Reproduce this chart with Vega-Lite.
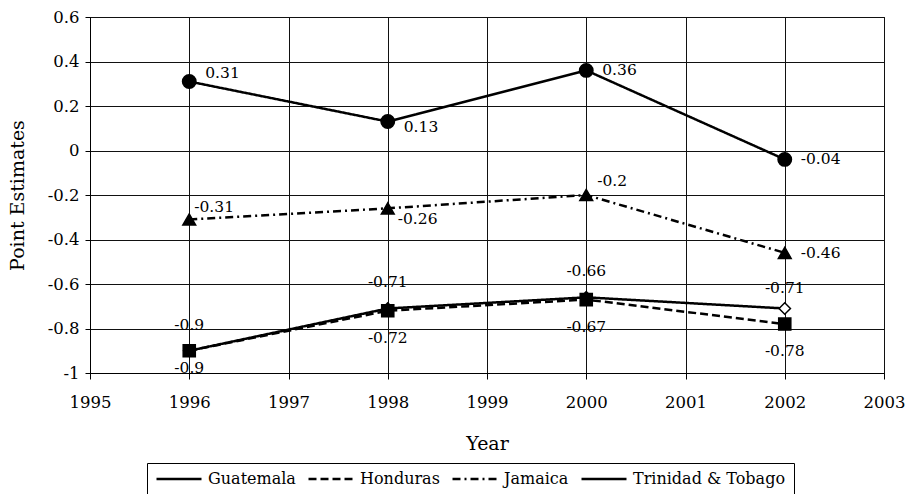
{
  "$schema": "https://vega.github.io/schema/vega-lite/v6.json",
  "autosize": {"type": "none"},
  "width": 794,
  "height": 356,
  "padding": {"left": 90, "top": 17, "right": 22, "bottom": 121},
  "background": "white",
  "config": {
    "locale": {"number": {"decimal": ".", "thousands": ",", "grouping": [3], "currency": ["$", ""], "minus": "-"}},
    "view": {"stroke": "black", "strokeWidth": 1},
    "font": "DejaVu Serif",
    "axis": {
      "domainColor": "black", "tickColor": "black", "gridColor": "#111", "gridWidth": 1,
      "labelFont": "DejaVu Serif", "labelFontSize": 16.5, "labelColor": "black",
      "titleFont": "DejaVu Serif", "titleFontSize": 19, "titleFontWeight": "normal", "titleColor": "black",
      "tickSize": 6
    },
    "legend": {"labelFont": "DejaVu Serif", "labelFontSize": 16, "labelColor": "black"}
  },
  "data": {"values": [
    {"country": "Guatemala", "year": 1996, "value": -0.9},
    {"country": "Guatemala", "year": 1998, "value": -0.71},
    {"country": "Guatemala", "year": 2000, "value": -0.66},
    {"country": "Guatemala", "year": 2002, "value": -0.71},
    {"country": "Honduras", "year": 1996, "value": -0.9},
    {"country": "Honduras", "year": 1998, "value": -0.72},
    {"country": "Honduras", "year": 2000, "value": -0.67},
    {"country": "Honduras", "year": 2002, "value": -0.78},
    {"country": "Jamaica", "year": 1996, "value": -0.31},
    {"country": "Jamaica", "year": 1998, "value": -0.26},
    {"country": "Jamaica", "year": 2000, "value": -0.2},
    {"country": "Jamaica", "year": 2002, "value": -0.46},
    {"country": "Trinidad & Tobago", "year": 1996, "value": 0.31},
    {"country": "Trinidad & Tobago", "year": 1998, "value": 0.13},
    {"country": "Trinidad & Tobago", "year": 2000, "value": 0.36},
    {"country": "Trinidad & Tobago", "year": 2002, "value": -0.04}
  ]},
  "encoding": {
    "x": {"field": "year", "type": "quantitative", "title": "Year",
      "scale": {"domain": [1995, 2003], "nice": false, "zero": false},
      "axis": {"values": [1995, 1996, 1997, 1998, 1999, 2000, 2001, 2002, 2003], "format": "d", "labelPadding": 15, "titlePadding": 24, "labelFlush": false}},
    "y": {"field": "value", "type": "quantitative", "title": "Point Estimates",
      "scale": {"domain": [-1, 0.6], "nice": false, "zero": false},
      "axis": {"values": [-1, -0.8, -0.6, -0.4, -0.2, 0, 0.2, 0.4, 0.6], "format": "~g", "labelPadding": 6, "titlePadding": 20, "tickSize": 5, "labelFlush": false}}
  },
  "layer": [
    {
      "mark": {"type": "line", "color": "black", "strokeWidth": 2.5},
      "encoding": {
        "strokeDash": {"field": "country", "type": "nominal",
          "scale": {"range": [[1, 0], [8, 4], [8, 4, 2, 4], [1, 0]]},
          "legend": {
            "orient": "none", "legendX": 57, "legendY": 446, "title": null,
            "direction": "horizontal", "columns": 4,
            "strokeColor": "black", "padding": 8, "clipHeight": 16,
            "symbolType": "stroke", "symbolSize": 2025, "symbolStrokeWidth": 2.5, "symbolStrokeColor": "black",
            "symbolOffset": 0, "labelOffset": 5, "columnPadding": 11, "labelLimit": 300
          }
        }
      }
    },
    {
      "mark": {"type": "point", "filled": true, "stroke": "black", "strokeWidth": 1.5, "opacity": 1},
      "encoding": {
        "shape": {"field": "country", "type": "nominal",
          "scale": {"domain": ["Guatemala", "Honduras", "Jamaica", "Trinidad & Tobago"],
            "range": ["diamond", "square", "triangle-up", "circle"]},
          "legend": {
            "orient": "none", "legendX": 57, "legendY": 446, "title": null,
            "direction": "horizontal", "columns": 4,
            "padding": 8, "clipHeight": 16,
            "symbolSize": 150, "symbolStrokeWidth": 1.5, "symbolStrokeColor": "black",
            "symbolOffset": 16, "labelOffset": 37, "columnPadding": 11, "labelLimit": 300
          }
        },
        "fill": {"field": "country", "type": "nominal",
          "scale": {"domain": ["Guatemala", "Honduras", "Jamaica", "Trinidad & Tobago"],
            "range": ["white", "black", "black", "black"]},
          "legend": {
            "orient": "none", "legendX": 57, "legendY": 446, "title": null,
            "direction": "horizontal", "columns": 4,
            "padding": 8, "clipHeight": 16,
            "symbolSize": 150, "symbolStrokeWidth": 1.5, "symbolStrokeColor": "black",
            "symbolOffset": 16, "labelOffset": 37, "columnPadding": 11, "labelLimit": 300
          }
        },
        "size": {"field": "country", "type": "nominal", "legend": null,
          "scale": {"domain": ["Guatemala", "Honduras", "Jamaica", "Trinidad & Tobago"],
            "range": [130, 180, 300, 230]}}
      }
    },
    {
      "transform": [{"filter": "datum.country === 'Guatemala' && datum.year !== 2002"}],
      "mark": {"type": "text", "fontSize": 15.5, "font": "DejaVu Serif", "color": "black", "align": "center", "baseline": "middle", "dy": -26},
      "encoding": {"text": {"field": "value", "type": "quantitative", "format": "~g"}}
    },
    {
      "transform": [{"filter": "datum.country === 'Guatemala' && datum.year === 2002"}],
      "mark": {"type": "text", "fontSize": 15.5, "font": "DejaVu Serif", "color": "black", "align": "center", "baseline": "middle", "dy": -20},
      "encoding": {"text": {"field": "value", "type": "quantitative", "format": "~g"}}
    },
    {
      "transform": [{"filter": "datum.country === 'Honduras' && datum.year !== 1996"}],
      "mark": {"type": "text", "fontSize": 15.5, "font": "DejaVu Serif", "color": "black", "align": "center", "baseline": "middle", "dy": 27},
      "encoding": {"text": {"field": "value", "type": "quantitative", "format": "~g"}}
    },
    {
      "transform": [{"filter": "datum.country === 'Honduras' && datum.year === 1996"}],
      "mark": {"type": "text", "fontSize": 15.5, "font": "DejaVu Serif", "color": "black", "align": "center", "baseline": "middle", "dy": 17},
      "encoding": {"text": {"field": "value", "type": "quantitative", "format": "~g"}}
    },
    {
      "transform": [{"filter": "(datum.country === 'Trinidad & Tobago' && datum.year >= 2000) || (datum.country === 'Jamaica' && datum.year === 2002)"}],
      "mark": {"type": "text", "fontSize": 15.5, "font": "DejaVu Serif", "color": "black", "align": "left", "baseline": "middle", "dx": 16, "dy": 0},
      "encoding": {"text": {"field": "value", "type": "quantitative", "format": "~g"}}
    },
    {
      "transform": [{"filter": "datum.country === 'Trinidad & Tobago' && datum.year === 1996"}],
      "mark": {"type": "text", "fontSize": 15.5, "font": "DejaVu Serif", "color": "black", "align": "left", "baseline": "middle", "dx": 16, "dy": -9},
      "encoding": {"text": {"field": "value", "type": "quantitative", "format": "~g"}}
    },
    {
      "transform": [{"filter": "datum.country === 'Trinidad & Tobago' && datum.year === 1998"}],
      "mark": {"type": "text", "fontSize": 15.5, "font": "DejaVu Serif", "color": "black", "align": "left", "baseline": "middle", "dx": 16, "dy": 5},
      "encoding": {"text": {"field": "value", "type": "quantitative", "format": "~g"}}
    },
    {
      "transform": [{"filter": "datum.country === 'Jamaica' && datum.year === 1996"}],
      "mark": {"type": "text", "fontSize": 15.5, "font": "DejaVu Serif", "color": "black", "align": "left", "baseline": "middle", "dx": 5, "dy": -12},
      "encoding": {"text": {"field": "value", "type": "quantitative", "format": "~g"}}
    },
    {
      "transform": [{"filter": "datum.country === 'Jamaica' && datum.year === 1998"}],
      "mark": {"type": "text", "fontSize": 15.5, "font": "DejaVu Serif", "color": "black", "align": "left", "baseline": "middle", "dx": 10, "dy": 11},
      "encoding": {"text": {"field": "value", "type": "quantitative", "format": "~g"}}
    },
    {
      "transform": [{"filter": "datum.country === 'Jamaica' && datum.year === 2000"}],
      "mark": {"type": "text", "fontSize": 15.5, "font": "DejaVu Serif", "color": "black", "align": "left", "baseline": "middle", "dx": 11, "dy": -14},
      "encoding": {"text": {"field": "value", "type": "quantitative", "format": "~g"}}
    }
  ]
}
